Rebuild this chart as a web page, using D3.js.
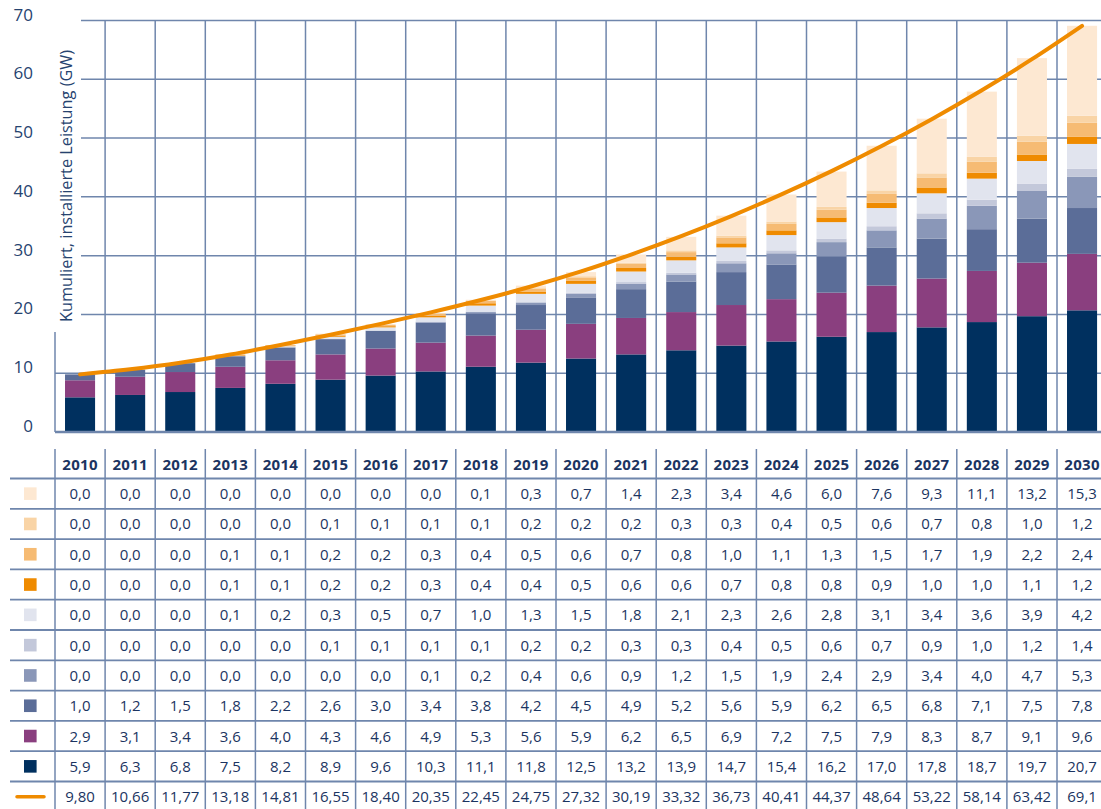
<!DOCTYPE html>
<html>
<head>
<meta charset="utf-8">
<script src="https://cdn.jsdelivr.net/npm/d3@7"></script>
<style>
  body { margin: 0; background: #fff; }
  svg { display: block; font-family: "Open Sans", sans-serif; }
</style>
</head>
<body>
<div id="chart"></div>
<script>
// years on the x axis
const years = ["2010","2011","2012","2013","2014","2015","2016","2017","2018","2019","2020",
               "2021","2022","2023","2024","2025","2026","2027","2028","2029","2030"];

// stacked series, bottom to top
const s1 = [5.9,6.3,6.8,7.5,8.2,8.9,9.6,10.3,11.1,11.8,12.5,13.2,13.9,14.7,15.4,16.2,17.0,17.8,18.7,19.7,20.7];
const s2 = [2.9,3.1,3.4,3.6,4.0,4.3,4.6,4.9,5.3,5.6,5.9,6.2,6.5,6.9,7.2,7.5,7.9,8.3,8.7,9.1,9.6];
const s3 = [1.0,1.2,1.5,1.8,2.2,2.6,3.0,3.4,3.8,4.2,4.5,4.9,5.2,5.6,5.9,6.2,6.5,6.8,7.1,7.5,7.8];
const s4 = [0.0,0.0,0.0,0.0,0.0,0.0,0.0,0.1,0.2,0.4,0.6,0.9,1.2,1.5,1.9,2.4,2.9,3.4,4.0,4.7,5.3];
const s5 = [0.0,0.0,0.0,0.0,0.0,0.1,0.1,0.1,0.1,0.2,0.2,0.3,0.3,0.4,0.5,0.6,0.7,0.9,1.0,1.2,1.4];
const s6 = [0.0,0.0,0.0,0.1,0.2,0.3,0.5,0.7,1.0,1.3,1.5,1.8,2.1,2.3,2.6,2.8,3.1,3.4,3.6,3.9,4.2];
const s7 = [0.0,0.0,0.0,0.1,0.1,0.2,0.2,0.3,0.4,0.4,0.5,0.6,0.6,0.7,0.8,0.8,0.9,1.0,1.0,1.1,1.2];
const s8 = [0.0,0.0,0.0,0.1,0.1,0.2,0.2,0.3,0.4,0.5,0.6,0.7,0.8,1.0,1.1,1.3,1.5,1.7,1.9,2.2,2.4];
const s9 = [0.0,0.0,0.0,0.0,0.0,0.1,0.1,0.1,0.1,0.2,0.2,0.2,0.3,0.3,0.4,0.5,0.6,0.7,0.8,1.0,1.2];
const s10 = [0.0,0.0,0.0,0.0,0.0,0.0,0.0,0.0,0.1,0.3,0.7,1.4,2.3,3.4,4.6,6.0,7.6,9.3,11.1,13.2,15.3];

// total (orange line)
const totals = [9.80,10.66,11.77,13.18,14.81,16.55,18.40,20.35,22.45,24.75,27.32,
                30.19,33.32,36.73,40.41,44.37,48.64,53.22,58.14,63.42,69.1];
const totalLabels = ["9,80","10,66","11,77","13,18","14,81","16,55","18,40","20,35","22,45","24,75","27,32",
                     "30,19","33,32","36,73","40,41","44,37","48,64","53,22","58,14","63,42","69,1"];

const seriesList = [s1, s2, s3, s4, s5, s6, s7, s8, s9, s10];
const colors = ["#00305f","#8a3f7f","#5b6d98","#8a97b8","#c3c8da","#e1e4ee",
                "#ef8b00","#f6bb73","#f9d4a6","#fde8d2"];
const yTicks = [0, 10, 20, 30, 40, 50, 60, 70];

const width = 1101, height = 809;
const gridColor = "#6f86ac";
const textColor = "#1b3461";

const svg = d3.select("#chart").append("svg")
    .attr("width", width)
    .attr("height", height);

const x = d3.scaleBand()
    .domain(years)
    .range([55, 55 + years.length * 50.1])
    .paddingInner(0.4)
    .paddingOuter(0.2);
const step = x.step();
const colLeft = d => x(d) - step * 0.2;

const y = d3.scaleLinear().domain([0, 70]).range([432, 20.5]);

// gridlines
svg.append("g").selectAll("line")
    .data(yTicks.filter(d => d > 0))
    .enter().append("line")
    .attr("x1", 55).attr("x2", width)
    .attr("y1", d => y(d)).attr("y2", d => y(d))
    .attr("stroke", gridColor).attr("stroke-width", 1.5);

svg.append("g").selectAll("line")
    .data(years.slice(1).concat(["end"]))
    .enter().append("line")
    .attr("x1", (d, i) => 55 + (i + 1) * step)
    .attr("x2", (d, i) => 55 + (i + 1) * step)
    .attr("y1", y(70)).attr("y2", y(0))
    .attr("stroke", gridColor).attr("stroke-width", 1.5);

svg.append("line")
    .attr("x1", 55).attr("x2", 55)
    .attr("y1", y(70)).attr("y2", y(0))
    .attr("stroke", gridColor).attr("stroke-width", 1.5);

// white box behind the axis title
svg.append("rect")
    .attr("x", 52).attr("y", 10)
    .attr("width", 29).attr("height", 322)
    .attr("fill", "#fff");

// stacked bars
const rows = years.map((yr, i) => {
    const r = { year: yr };
    seriesList.forEach((s, k) => r["s" + k] = s[i]);
    return r;
});
const stack = d3.stack().keys(seriesList.map((s, k) => "s" + k));
const stacked = stack(rows);

svg.append("g").selectAll("g")
    .data(stacked)
    .enter().append("g")
    .attr("fill", (d, k) => colors[k])
    .selectAll("rect")
    .data(d => d)
    .enter().append("rect")
    .attr("x", d => x(d.data.year))
    .attr("width", x.bandwidth())
    .attr("y", d => y(d[1]))
    .attr("height", d => Math.max(0, y(d[0]) - y(d[1])));

// baseline
svg.append("line")
    .attr("x1", 55).attr("x2", width)
    .attr("y1", y(0)).attr("y2", y(0))
    .attr("stroke", gridColor).attr("stroke-width", 2.5);

// total line
const line = d3.line()
    .x((d, i) => x(years[i]) + x.bandwidth() / 2)
    .y(d => y(d))
    .curve(d3.curveMonotoneX);

svg.append("path")
    .datum(totals)
    .attr("d", line)
    .attr("fill", "none")
    .attr("stroke", "#ef8b00")
    .attr("stroke-width", 4)
    .attr("stroke-linecap", "round");

// y tick labels
svg.append("g").selectAll("text")
    .data(yTicks)
    .enter().append("text")
    .attr("x", 33)
    .attr("y", d => y(d))
    .attr("text-anchor", "end")
    .attr("font-size", 17)
    .attr("fill", "#26436f")
    .text(d => d);

// axis title
svg.append("text")
    .attr("transform", "translate(72,322) rotate(-90)")
    .attr("font-size", 16.3)
    .attr("fill", "#26436f")
    .text("Kumuliert, installierte Leistung (GW)");

// ---- data table ----
const tableTop = 449, headBottom = 478.5, rowH = 30.3;
const nRows = seriesList.length + 1;

// horizontal lines
svg.append("g").selectAll("line")
    .data(d3.range(nRows))
    .enter().append("line")
    .attr("x1", 10).attr("x2", width)
    .attr("y1", d => headBottom + d * rowH)
    .attr("y2", d => headBottom + d * rowH)
    .attr("stroke", gridColor).attr("stroke-width", 1.8);

// vertical lines
svg.append("g").selectAll("line")
    .data(d3.range(years.length + 1))
    .enter().append("line")
    .attr("x1", d => 55 + d * step).attr("x2", d => 55 + d * step)
    .attr("y1", tableTop).attr("y2", height)
    .attr("stroke", gridColor).attr("stroke-width", 1.5);

// header
svg.append("g").selectAll("text")
    .data(years)
    .enter().append("text")
    .attr("x", d => colLeft(d) + step / 2)
    .attr("y", 470)
    .attr("text-anchor", "middle")
    .attr("font-size", 15)
    .attr("font-weight", "bold")
    .attr("letter-spacing", 0.3)
    .attr("fill", textColor)
    .text(d => d);

const fmt = v => v.toFixed(1).replace(".", ",");
const tableRows = seriesList.slice().reverse();
const tableColors = colors.slice().reverse();

tableRows.forEach((s, r) => {
    const cy = headBottom + r * rowH + rowH / 2;
    svg.append("rect")
        .attr("x", 24).attr("y", cy - 6.3)
        .attr("width", 12.6).attr("height", 12.6)
        .attr("fill", tableColors[r]);
    svg.append("g").selectAll("text")
        .data(s)
        .enter().append("text")
        .attr("x", (d, i) => colLeft(years[i]) + step / 2)
        .attr("y", cy + 5.5)
        .attr("text-anchor", "middle")
        .attr("font-size", 15)
        .attr("fill", textColor)
        .text(d => fmt(d));
});

// totals row
const lastY = headBottom + tableRows.length * rowH + rowH / 2;
svg.append("line")
    .attr("x1", 17).attr("x2", 44)
    .attr("y1", lastY).attr("y2", lastY)
    .attr("stroke", "#ef8b00").attr("stroke-width", 3.5)
    .attr("stroke-linecap", "round");
svg.append("g").selectAll("text")
    .data(totalLabels)
    .enter().append("text")
    .attr("x", (d, i) => colLeft(years[i]) + step / 2)
    .attr("y", lastY + 5.5)
    .attr("text-anchor", "middle")
    .attr("font-size", 15)
    .attr("fill", textColor)
    .text(d => d);
</script>
</body>
</html>
